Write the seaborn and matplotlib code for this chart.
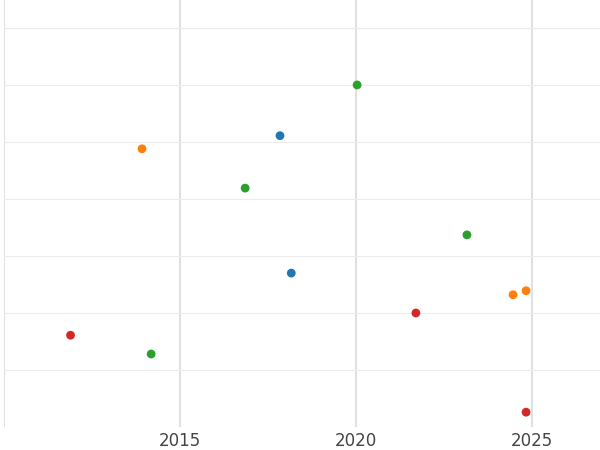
import matplotlib
matplotlib.use("Agg")
import matplotlib.pyplot as plt
import seaborn as sns
import pandas as pd

years = [2017.84, 2018.16, 2013.92, 2024.46, 2024.83, 2020.03, 2016.85, 2023.15, 2014.18, 2011.89, 2021.70, 2024.83]
values = [5.11, 2.70, 4.88, 2.32, 2.39, 6.00, 4.19, 3.37, 1.28, 1.61, 2.00, 0.26]
groups = ["A", "A", "B", "B", "B", "C", "C", "C", "C", "D", "D", "D"]
palette = {"A": "#1f77b4", "B": "#ff7f0e", "C": "#2ca02c", "D": "#d62728"}

df = pd.DataFrame({"year": years, "value": values, "group": groups})

sns.set_style("whitegrid", {"grid.color": "#e6e6e6"})
fig = plt.figure(figsize=(6, 4.5), dpi=100)
ax = fig.add_axes([4/600, 23/450, 596/600, 427/450])
sns.scatterplot(data=df, x="year", y="value", hue="group", palette=palette,
                s=40, linewidth=0, legend=False, ax=ax)
ax.set_xlim(2010, 2026.93)
ax.set_ylim(0, 7.49)
ax.set_xticks([2010, 2015, 2020, 2025])
ax.set_xticklabels(["", "2015", "2020", "2025"], fontsize=12, color="#444444")
ax.set_yticks([1, 2, 3, 4, 5, 6, 7])
ax.set_yticklabels([])
ax.grid(axis="x", color="#e0e0e0", linewidth=1.5)
ax.grid(axis="y", color="#ececec", linewidth=0.8)
ax.set_xlabel("")
ax.set_ylabel("")
ax.tick_params(length=0)
for s in ax.spines.values():
    s.set_visible(False)
fig.savefig("out.png", dpi=100)
